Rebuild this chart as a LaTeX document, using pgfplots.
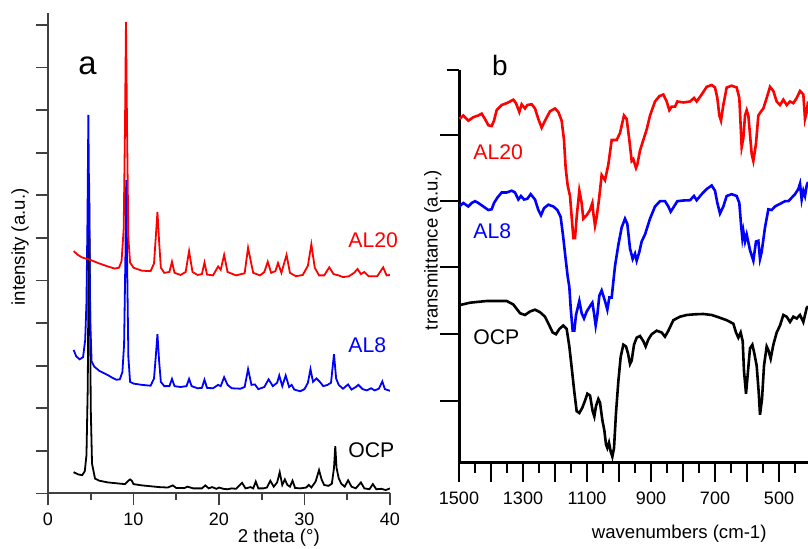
\documentclass[border=0pt]{standalone}
\usepackage{fontspec}
\setmainfont{Liberation Sans}
\usepackage{pgfplots}
\pgfplotsset{compat=1.18}
\begin{document}
\begin{tikzpicture}
\useasboundingbox (0,0) rectangle (404pt,274.5pt);
\pgfplotsset{
  every axis/.append style={
    scale only axis, anchor=south west,
    axis x line*=bottom, axis y line*=left,
    tick align=outside,
    /pgf/number format/assume math mode=true,
    /pgf/number format/1000 sep={},
    tick label style={font=\fontsize{9}{10}\selectfont},
    label style={font=\fontsize{9.3}{10}\selectfont},
    yticklabels={},
  }
}
% ---- panel a: XRD
\begin{axis}[at={(24pt,27.75pt)}, width=171pt, height=240.25pt,
  xmin=0, xmax=40, ymin=0, ymax=11.28,
  xtick={0,10,20,30,40}, minor xtick={5,15,25,35},
  ytick={0,1,...,11},
  major tick length=6pt, minor tick length=3.5pt,
  axis line style={black!75, line width=1pt},
  every tick/.style={black!75, line width=0.9pt},
  xlabel={2 theta (°)}, ylabel={intensity (a.u.)},
  xlabel style={at={(axis description cs:0.675,-0.0926)}, anchor=center},
  ylabel style={at={(axis description cs:-0.082,0.513)}, anchor=center},
]
\addplot[black, line width=0.9pt] coordinates {
(3.0,0.50)(3.5,0.45)(4.0,0.43)(4.3,0.52)(4.5,0.9)(4.65,2.5)(4.75,5.5)(4.82,7.29)(4.9,5.0)(5.0,2.0)(5.15,0.7)(5.5,0.35)(6,0.30)(7,0.26)(8,0.24)(9,0.22)(9.4,0.30)(9.6,0.33)(9.8,0.30)(10,0.22)(11,0.19)(12,0.17)(13,0.15)(14,0.14)(14.6,0.19)(15,0.13)(16,0.13)(16.3,0.16)(17,0.12)(18,0.12)(18.4,0.19)(18.8,0.12)(19.2,0.15)(19.7,0.11)(20,0.14)(20.5,0.11)(21,0.10)(21.5,0.12)(22,0.11)(22.7,0.25)(23.1,0.12)(23.7,0.15)(24.0,0.12)(24.3,0.28)(24.6,0.12)(25.2,0.12)(25.6,0.14)(26.0,0.30)(26.4,0.16)(26.8,0.26)(27.1,0.50)(27.4,0.20)(27.7,0.33)(28.0,0.20)(28.3,0.16)(28.6,0.30)(28.9,0.13)(29.5,0.12)(30.2,0.14)(30.5,0.20)(30.8,0.14)(31.3,0.28)(31.7,0.55)(32.0,0.33)(32.3,0.20)(32.8,0.18)(33.2,0.23)(33.45,0.6)(33.6,1.11)(33.75,0.6)(34.0,0.36)(34.3,0.23)(34.7,0.16)(35.1,0.31)(35.5,0.16)(36.0,0.12)(36.6,0.26)(37.0,0.12)(37.6,0.10)(38.0,0.22)(38.4,0.10)(39,0.11)(39.5,0.08)(40,0.12)};
\addplot[blue, line width=0.9pt] coordinates {
(3.0,3.37)(3.3,3.22)(3.7,3.15)(4.1,3.2)(4.35,3.6)(4.5,4.5)(4.62,6.5)(4.72,8.89)(4.82,6.5)(4.95,4.0)(5.1,3.1)(5.4,2.98)(6,2.88)(6.5,2.83)(7,2.78)(7.5,2.72)(8.0,2.67)(8.4,2.68)(8.7,2.85)(8.9,3.5)(9.05,5.5)(9.15,7.36)(9.25,5.5)(9.4,3.2)(9.6,2.62)(10,2.58)(11,2.55)(12,2.53)(12.4,2.7)(12.6,3.2)(12.8,3.74)(13.0,3.1)(13.2,2.62)(13.6,2.52)(14.2,2.52)(14.5,2.69)(14.8,2.52)(15.5,2.5)(16.2,2.52)(16.5,2.69)(16.8,2.52)(17.5,2.47)(18.0,2.48)(18.3,2.67)(18.6,2.48)(19.3,2.47)(19.9,2.55)(20.2,2.52)(20.6,2.73)(21.0,2.55)(21.5,2.47)(22.5,2.46)(23.0,2.5)(23.4,2.92)(23.8,2.55)(24.2,2.56)(24.6,2.45)(25.3,2.5)(25.8,2.68)(26.3,2.52)(26.8,2.6)(27.05,2.77)(27.4,2.52)(27.8,2.77)(28.2,2.5)(28.5,2.55)(28.8,2.44)(29.5,2.40)(30.0,2.45)(30.4,2.6)(30.7,2.92)(31.0,2.62)(31.4,2.70)(31.8,2.62)(32.2,2.52)(32.7,2.55)(33.1,2.6)(33.45,3.27)(33.7,2.7)(34.0,2.55)(34.5,2.46)(35.1,2.56)(35.5,2.44)(36.0,2.5)(36.3,2.55)(36.8,2.45)(37.3,2.42)(37.8,2.47)(38.2,2.42)(38.7,2.46)(39.1,2.63)(39.4,2.45)(40,2.41)};
\addplot[red, line width=0.9pt] coordinates {
(3.0,5.69)(3.5,5.6)(4.0,5.54)(5.0,5.48)(6,5.4)(7,5.33)(7.8,5.28)(8.3,5.3)(8.6,5.45)(8.85,6.2)(9.0,8.5)(9.12,11.07)(9.25,8.5)(9.4,6.0)(9.6,5.42)(10,5.3)(11,5.23)(12,5.22)(12.4,5.4)(12.6,6.0)(12.8,6.61)(13.0,5.9)(13.2,5.3)(13.6,5.18)(14.2,5.2)(14.5,5.44)(14.8,5.18)(15.5,5.13)(16.1,5.2)(16.5,5.69)(16.9,5.2)(17.5,5.13)(18.0,5.15)(18.3,5.42)(18.6,5.14)(19.3,5.12)(19.9,5.33)(20.2,5.25)(20.6,5.60)(21.0,5.2)(22,5.12)(23.0,5.17)(23.4,5.77)(23.7,5.47)(24.0,5.18)(24.8,5.12)(25.3,5.2)(25.7,5.44)(26.1,5.18)(26.6,5.22)(26.9,5.41)(27.3,5.18)(27.9,5.60)(28.3,5.18)(29.0,5.10)(29.8,5.13)(30.4,5.35)(30.8,5.85)(31.2,5.3)(31.7,5.12)(32.3,5.12)(32.9,5.31)(33.4,5.15)(34.0,5.12)(34.5,5.08)(35.2,5.10)(35.8,5.18)(36.2,5.27)(36.6,5.15)(37.0,5.2)(37.5,5.1)(38.5,5.10)(39.2,5.31)(39.6,5.12)(40,5.13)};
\end{axis}
% ---- panel b: FTIR
\begin{axis}[at={(229.5pt,43pt)}, width=174.5pt, height=196.5pt,
  x dir=reverse, xmin=409.4, xmax=1500, ymin=0, ymax=393,
  xtick={500,700,900,1100,1300,1500},
  extra x ticks={600,800,1000,1200,1400}, extra x tick labels={},
  minor xtick={450,550,...,1450},
  ytick={62,129,196,262,328,393},
  major tick length=9.5pt, minor tick length=5pt,
  axis line style={black, line width=1.5pt},
  every tick/.style={black, line width=1.4pt},
  every y tick/.style={black, line width=1.4pt, shorten <=3.5pt},
  xticklabel style={yshift=-1.25pt},
  xlabel={wavenumbers (cm-1)}, ylabel={transmittance (a.u.)},
  xlabel style={at={(axis description cs:0.631,-0.181)}, anchor=center},
  ylabel style={at={(axis description cs:-0.075,0.542)}, anchor=center},
]
\addplot[red, line width=1.3pt] coordinates {
(1499,344)(1486.5,347.5)(1470.8,342.3)(1455.2,345.8)(1439.6,347.5)(1429.2,349.3)(1418.8,344)(1408.3,337.7)(1397.9,337)(1390.6,342.3)(1382.3,352.8)(1366.7,358)(1351,359.8)(1340.6,361.5)(1330.2,363.3)(1321.9,359.8)(1311.5,351)(1304.2,358.7)(1293.8,354.5)(1286.5,358)(1272.9,358.7)(1262.5,354.5)(1252.1,344)(1241.7,335.3)(1231.3,342.3)(1215.6,351.7)(1200,354.5)(1189.6,351)(1179.2,342.3)(1171.9,323)(1166.7,295)(1160.4,277.5)(1153.1,267)(1147.9,246)(1142.7,225)(1137.5,225)(1132.3,246)(1124,272.3)(1116.7,260)(1111.5,244.3)(1101,247.8)(1090.6,253)(1083.3,260)(1080.2,249.5)(1075,237.3)(1069.8,246)(1062.5,263.5)(1054.2,288)(1043.8,282.8)(1033.3,298.5)(1022.9,323)(1007.3,323)(996.9,330)(984.4,347.5)(976,344)(967.7,323)(960.4,302)(955.2,303.8)(946.9,295)(942.7,298.5)(934.4,312.5)(924,323)(913.5,333.5)(903.1,347.5)(887.5,361.5)(873.9,366.8)(861.5,368.5)(851,361.5)(842.7,352.8)(835.4,356.3)(825,356.3)(817.7,361.5)(798.9,360.5)(778.1,361.5)(765.6,365)(757.3,361.5)(741.7,368.5)(726,376.2)(710.4,378)(700,375.5)(692.7,365)(686.5,347.5)(681.3,342.3)(674,358)(663.5,375.5)(647.9,377.3)(632.3,375.5)(624,365)(616.7,316)(611.5,324.8)(606.2,347.5)(601,352.8)(595.8,347.5)(585.4,309)(580.2,302)(571.9,319.5)(564.6,347.5)(557.3,351)(549,354.5)(538.5,365)(528.1,376.2)(517.7,372)(507.3,361.5)(496.9,358)(486.5,363.3)(476,358)(465.6,361.5)(455.2,359.8)(444.8,365)(434.4,372)(424,368.5)(418.8,344)(413.5,351)(409.4,361.5)};
\addplot[blue, line width=1.3pt] coordinates {
(1499,256.5)(1486.5,260)(1470.8,256.5)(1460.4,260)(1450,261.8)(1439.6,260)(1424,256.5)(1408.3,253)(1397.9,253.7)(1390.6,260)(1380.2,265.3)(1366.7,270.5)(1351,270.5)(1335.4,272.3)(1325,270.5)(1314.6,263.5)(1306.3,267)(1296.9,263.5)(1286.5,264.2)(1276,268.8)(1262.5,263.5)(1252.1,253)(1243.8,247.8)(1234.4,254.8)(1220.8,258.3)(1205.2,256.5)(1192.7,253)(1182.3,246)(1174,225)(1166.7,204)(1160.4,186.5)(1155.2,176)(1151,155)(1144.8,132.3)(1139.6,132.3)(1134.4,148)(1124,162)(1116.7,149.8)(1109.4,144.5)(1101,151.5)(1090.6,156.8)(1083.3,160.3)(1078.1,149.8)(1072.9,137.5)(1067.7,148)(1061.5,167.3)(1054.2,172.5)(1043.8,162)(1036.5,153.3)(1030.2,165.5)(1022.9,165.5)(1012.5,197)(1002.1,218)(991.7,235.5)(981.3,244.3)(974,239)(965.6,214.5)(957.3,204)(950,209.3)(944.8,202.3)(936.5,211)(929.2,221.5)(918.8,228.5)(903.1,244.3)(887.5,256.5)(871.9,261.8)(856.3,261.8)(845.8,256.5)(838.5,251.3)(828.1,256.5)(817.7,261.8)(798.9,262.5)(778.1,262.8)(765.6,267)(757.3,262.8)(741.7,268.8)(726,274)(710.4,277.5)(700,272.3)(692.7,260)(684.4,249.5)(674,256.5)(663.5,267)(647.9,268.8)(632.3,267)(624,260)(618.8,239)(614.6,225)(611.5,232)(606.2,221.5)(601,228.5)(590.6,212.8)(580.2,202.3)(571.9,221.5)(564.6,222.2)(559.4,204)(554.2,211)(543.8,235.5)(533.3,253.7)(522.9,253)(512.5,256.5)(502.1,258.3)(491.7,260)(481.3,261.8)(470.8,261.8)(460.4,265.3)(450,268.8)(439.6,274)(434.4,279.3)(429.2,263.5)(424,272.3)(418.8,267)(413.5,277.5)(409.4,281)};
\addplot[black, line width=1.3pt] coordinates {
(1499,157.8)(1465.6,160.3)(1413.5,162)(1351,162)(1330.2,158.5)(1309.4,149.8)(1293.8,148)(1278.1,151.5)(1262.5,153.3)(1246.9,150.8)(1231.3,146.3)(1217.7,137.5)(1207.3,130.5)(1196.9,128.8)(1186.5,134)(1174,137.5)(1163.5,134)(1155.2,116.5)(1147.9,95.5)(1139.6,71)(1132.3,51.8)(1124,50)(1114.6,55.3)(1106.3,62.3)(1099,69.3)(1090.6,67.5)(1082.3,51.8)(1077.1,46.5)(1071.9,57)(1064.6,64)(1059.4,60.5)(1052.1,43)(1045.8,32.5)(1040.6,18.5)(1036.5,15)(1031.3,20.3)(1026,11.5)(1020.8,6.3)(1015.6,15)(1009.4,50)(1002.1,81.5)(994.8,106)(986.5,118.3)(978.1,116.5)(971.9,109.5)(965.6,99)(960.4,102.5)(953.1,118.3)(944.8,125.3)(934.4,127)(924,121.8)(916.7,116.5)(908.3,123.5)(897.9,128.8)(882.3,132.3)(866.7,130.5)(856.3,126.3)(845.8,132.3)(830.2,142.8)(809.4,146.3)(788.5,148)(762.5,148.7)(736.5,149)(710.4,148)(684.4,145.2)(663.5,142.8)(642.7,139.3)(634.4,130.5)(627.1,125.3)(619.8,130.5)(613.5,121.8)(609.4,92)(603.1,69.3)(596.9,92)(590.6,114.8)(583.3,118.3)(577.1,109.5)(569.8,97.3)(563.5,71)(559.4,48.3)(553.1,64)(546.9,97.3)(538.5,116.5)(533.3,113)(526,104.3)(517.7,118.3)(507.3,130.5)(496.9,137.5)(486.5,148)(476,146.3)(465.6,141)(455.2,146.3)(444.8,144.5)(434.4,148)(424,141)(413.5,155)(409.4,156.8)};
\end{axis}
% panel letters and series names
\node[font=\fontsize{16.4}{18}\selectfont, inner sep=0pt] at (43.75pt,241.75pt) {a};
\node[font=\fontsize{14}{16}\selectfont, inner sep=0pt] at (250pt,241.75pt) {b};
\begin{scope}[every node/.style={font=\fontsize{10.6}{12}\selectfont, inner sep=0pt, anchor=west}]
\node[red] at (174pt,154.5pt) {AL20};
\node[blue] at (174pt,102pt) {AL8};
\node[black] at (174pt,49.5pt) {OCP};
\node[red] at (236.5pt,198.2pt) {AL20};
\node[blue] at (236.5pt,158.75pt) {AL8};
\node[black] at (236.5pt,106pt) {OCP};
\end{scope}
\end{tikzpicture}
\end{document}
